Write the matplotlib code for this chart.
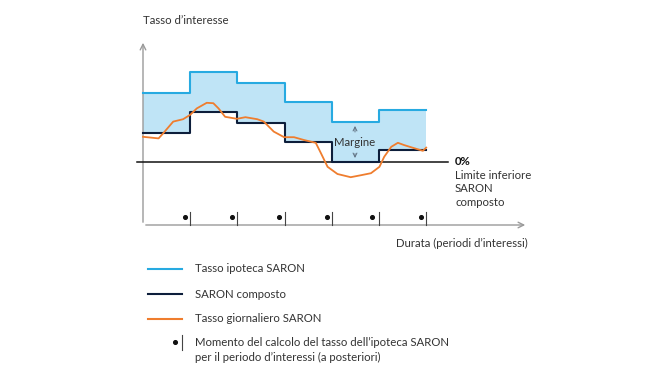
import matplotlib
matplotlib.use("Agg")
import matplotlib.pyplot as plt
import numpy as np

# ---- data ----
periods = [0, 1, 2, 3, 4, 5, 6]
saron_composto = [0.72, 1.25, 0.98, 0.50, 0.00, 0.30]
margine = 1.0
tasso_ipoteca = [v + margine for v in saron_composto]
daily_x = [0.0, 0.33, 0.43, 0.64, 0.85, 1.0, 1.14, 1.35, 1.49, 1.60, 1.74, 1.99, 2.17,
           2.42, 2.56, 2.77, 2.99, 3.20, 3.41, 3.66, 3.77, 3.91, 4.12, 4.40, 4.62,
           4.83, 5.01, 5.11, 5.26, 5.40, 5.54, 5.76, 5.93, 6.0]
daily_y = [0.63, 0.59, 0.72, 1.01, 1.07, 1.18, 1.34, 1.48, 1.47, 1.34, 1.13, 1.08, 1.12,
           1.07, 1.01, 0.76, 0.62, 0.62, 0.55, 0.48, 0.22, -0.12, -0.30, -0.38, -0.33,
           -0.28, -0.12, 0.13, 0.38, 0.48, 0.42, 0.34, 0.28, 0.36]
calc_points = [0.89, 1.89, 2.89, 3.90, 4.86, 5.88]

legend_labels = ["Tasso ipoteca SARON", "SARON composto", "Tasso giornaliero SARON"]
note_label = "Momento del calcolo del tasso dell\u2019ipoteca SARON\nper il periodo d\u2019interessi (a posteriori)"

# ---- style ----
C_BLUE = "#27aae1"
C_FILL = "#bfe4f6"
C_NAVY = "#0d1e3b"
C_ORANGE = "#ef7d2e"
C_AXIS = "#9a9a9a"
C_TEXT = "#333333"
FONT = "Lato"
FS = 8.2

W, H = 670, 377
fig = plt.figure(figsize=(W / 100, H / 100), dpi=100)
ax = fig.add_axes([0, 0, 1, 1])
X0, SX = 143, 47.2
Y0, SY = 162, 40.0
ax.set_xlim(-X0 / SX, (W - X0) / SX)
ax.set_ylim((Y0 - H) / SY, Y0 / SY)
ax.axis("off")

def px(x, y):
    return ((x - X0) / SX, (Y0 - y) / SY)

# fill between blue and navy steps
xs = np.array(periods, dtype=float)
top = np.array(tasso_ipoteca + [tasso_ipoteca[-1]])
bot = np.array(saron_composto + [saron_composto[-1]])
ax.fill_between(xs, bot, top, step="post", color=C_FILL, lw=0, zorder=1)

# zero line
zx0, _ = px(137, 0)
zx1, _ = px(448, 0)
ax.plot([zx0, zx1], [0, 0], color="#111111", lw=1.1, zorder=3)

ax.step(xs, top, where="post", color=C_BLUE, lw=1.5, zorder=4)
ax.step(xs, bot, where="post", color=C_NAVY, lw=1.5, zorder=4)
ax.plot(daily_x, daily_y, color=C_ORANGE, lw=1.3, zorder=5)

# axes with arrows
ya, yb = px(0, 225)[1], px(0, 40)[1]
ax.annotate("", xy=(0, yb), xytext=(0, ya),
            arrowprops=dict(arrowstyle="->", color=C_AXIS, lw=1.0, mutation_scale=10), zorder=2)
xe = px(528, 0)[0]
ax.annotate("", xy=(xe, ya), xytext=(0, ya),
            arrowprops=dict(arrowstyle="->", color=C_AXIS, lw=1.0, mutation_scale=10), zorder=2)

# calculation ticks and dots
tick_top = px(0, 212)[1]
for b in periods[1:]:
    ax.plot([b, b], [ya, tick_top], color="#444444", lw=0.8, zorder=3)
dot_y = px(0, 217)[1]
ax.scatter(calc_points, [dot_y] * len(calc_points), s=7, color="#111111", zorder=4)

# margin annotation
mx = px(355, 0)[0]
ax.annotate("", xy=(mx, tasso_ipoteca[4] - 0.03), xytext=(mx, tasso_ipoteca[4] - 0.32),
            arrowprops=dict(arrowstyle="->", color="#5f6f80", lw=0.7, mutation_scale=7), zorder=6)
ax.annotate("", xy=(mx, 0.03), xytext=(mx, 0.28),
            arrowprops=dict(arrowstyle="->", color="#5f6f80", lw=0.7, mutation_scale=7), zorder=6)
ax.text(mx, 0.5, "Margine", ha="center", va="center", fontsize=FS, color=C_TEXT,
        family=FONT, zorder=7)

def ftext(x, y, s, **kw):
    kw.setdefault("fontsize", FS)
    kw.setdefault("color", C_TEXT)
    kw.setdefault("family", FONT)
    fig.text(x / W, 1 - y / H, s, **kw)

ftext(143, 20, "Tasso d\u2019interesse", ha="left", va="center")
ftext(528, 243, "Durata (periodi d\u2019interessi)", ha="right", va="center")
ftext(455, 161, "0%", ha="left", va="center", fontweight="bold", color="#111111")
ftext(455, 175, "Limite inferiore", ha="left", va="center")
ftext(455, 189, "SARON", ha="left", va="center")
ftext(455, 203, "composto", ha="left", va="center")

# legend
leg_y = [269, 294, 319]
leg_c = [C_BLUE, C_NAVY, C_ORANGE]
for yy, cc, lab in zip(leg_y, leg_c, legend_labels):
    lx0, ly = px(148, yy)
    lx1, _ = px(182, yy)
    ax.plot([lx0, lx1], [ly, ly], color=cc, lw=1.5)
    ftext(195, yy, lab, ha="left", va="center")
dx, dyy = px(175, 342)
ax.scatter([dx], [dyy], s=7, color="#111111")
tx = px(182, 0)[0]
ax.plot([tx, tx], [px(0, 335)[1], px(0, 350)[1]], color="#444444", lw=0.8)
ftext(195, 350, note_label, ha="left", va="center", linespacing=1.35)

fig.savefig("out.png", dpi=100)
